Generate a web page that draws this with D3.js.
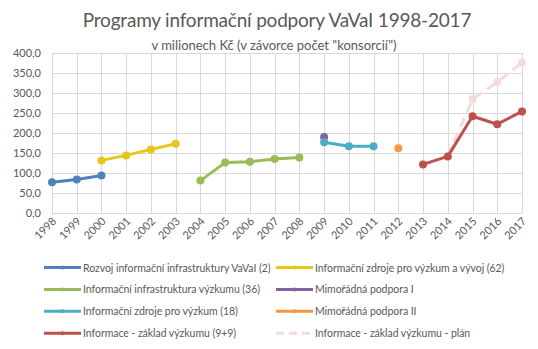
<!DOCTYPE html>
<html>
<head>
<meta charset="utf-8">
<script src="https://cdn.jsdelivr.net/npm/d3@7"></script>
<style>
  body { margin: 0; background: #fff; }
  svg text { font-family: Lato, "Open Sans", sans-serif; fill: #595959; }
</style>
</head>
<body>
<div id="chart"></div>
<script>
// -----------------------------
// Data
// -----------------------------
const years = d3.range(1998, 2018);
const yTicks = [0, 50, 100, 150, 200, 250, 300, 350, 400];

const rozvoj = [[1998, 77], [1999, 84], [2000, 94]];
const zdrojeVyvoj = [[2000, 131.5], [2001, 144], [2002, 159], [2003, 173]];
const infraVyzkumu = [[2004, 81], [2005, 126], [2006, 128], [2007, 135], [2008, 139]];
const mimoradnaI = [[2009, 190]];
const zdrojeVyzkum = [[2009, 177], [2010, 167], [2011, 167]];
const mimoradnaII = [[2012, 162]];
const zakladVyzkumu = [[2013, 121.5], [2014, 141.5], [2015, 242], [2016, 222], [2017, 254]];
const zakladPlan = [[2014, 141.5], [2015, 285], [2016, 327], [2017, 376]];

const series = [
  { name: "Rozvoj informační infrastruktury VaVaI (2)", color: "#4F81BD", values: rozvoj },
  { name: "Informační zdroje pro výzkum a vývoj (62)", color: "#E6C619", values: zdrojeVyvoj },
  { name: "Informační infrastruktura výzkumu (36)", color: "#9BBB59", values: infraVyzkumu },
  { name: "Mimořádná podpora I", color: "#8064A2", values: mimoradnaI },
  { name: "Informační zdroje pro výzkum (18)", color: "#4BACC6", values: zdrojeVyzkum },
  { name: "Mimořádná podpora II", color: "#F79646", values: mimoradnaII },
  { name: "Informace - základ výzkumu (9+9)", color: "#C0504D", values: zakladVyzkumu },
  { name: "Informace - základ výzkumu - plán", color: "#F2DCDB", values: zakladPlan, dashed: true }
];

// -----------------------------
// Layout
// -----------------------------
const width = 538, height = 349;
const margin = { left: 52, right: 16, top: 53, bottom: 136 };

const svg = d3.select("#chart").append("svg")
  .attr("width", width)
  .attr("height", height);

const x = d3.scalePoint()
  .domain(years)
  .range([margin.left, width - margin.right]);

const y = d3.scaleLinear()
  .domain([0, 400])
  .range([height - margin.bottom, margin.top]);

// Title
svg.append("text")
  .attr("x", 277)
  .attr("y", 27)
  .attr("text-anchor", "middle")
  .style("font-size", "19px")
  .style("letter-spacing", "-0.2px")
  .text("Programy informační podpory VaVaI 1998-2017");

svg.append("text")
  .attr("x", 274)
  .attr("y", 50)
  .attr("text-anchor", "middle")
  .style("font-size", "13px")
  .text("v milionech Kč (v závorce počet \"konsorcií\")");

// Grid
svg.append("g")
  .selectAll("line")
  .data(yTicks)
  .join("line")
  .attr("x1", x(1998))
  .attr("x2", x(2017))
  .attr("y1", d => y(d) + 0.5)
  .attr("y2", d => y(d) + 0.5)
  .attr("stroke", "#d9d9d9");

svg.append("g")
  .selectAll("line")
  .data(years)
  .join("line")
  .attr("x1", d => Math.round(x(d)) + 0.5)
  .attr("x2", d => Math.round(x(d)) + 0.5)
  .attr("y1", y(400))
  .attr("y2", y(0))
  .attr("stroke", "#d9d9d9");

// Y labels
svg.append("g")
  .selectAll("text")
  .data(yTicks)
  .join("text")
  .attr("x", 41)
  .attr("y", d => y(d) + 4)
  .attr("text-anchor", "end")
  .style("font-size", "11px")
  .text(d => d3.format(".1f")(d).replace(".", ","));

// X labels
svg.append("g")
  .selectAll("text")
  .data(years)
  .join("text")
  .attr("transform", d => `translate(${x(d) + 5},${y(0) + 9}) rotate(-45)`)
  .attr("text-anchor", "end")
  .style("font-size", "11px")
  .text(d => d);

// Lines
const line = d3.line()
  .x(d => x(d[0]))
  .y(d => y(d[1]));

const drawOrder = [7, 0, 1, 2, 3, 4, 5, 6];
const plot = svg.append("g");
drawOrder.forEach(i => {
  const s = series[i];
  const g = plot.append("g");
  g.append("path")
    .datum(s.values)
    .attr("fill", "none")
    .attr("stroke", s.color)
    .attr("stroke-width", 3)
    .attr("stroke-linejoin", "round")
    .attr("stroke-dasharray", s.dashed ? "10,6" : null)
    .attr("d", line);
  g.selectAll("circle")
    .data(s.values)
    .join("circle")
    .attr("cx", d => x(d[0]))
    .attr("cy", d => y(d[1]))
    .attr("r", 4)
    .attr("fill", s.color);
});

// -----------------------------
// Legend
// -----------------------------
const legend = svg.append("g");
series.forEach((s, i) => {
  const col = i % 2, row = Math.floor(i / 2);
  const lx = col === 0 ? 44 : 276;
  const ly = 267.5 + row * 21.9;
  const g = legend.append("g").attr("transform", `translate(${lx},${ly})`);
  g.append("line")
    .attr("x1", 0).attr("x2", 37)
    .attr("y1", 0).attr("y2", 0)
    .attr("stroke", s.color)
    .attr("stroke-width", 3)
    .attr("stroke-dasharray", s.dashed ? "8,5" : null);
  g.append("circle")
    .attr("cx", 18.5).attr("cy", 0).attr("r", 2)
    .attr("fill", s.color);
  g.append("text")
    .attr("x", 39)
    .attr("y", 4)
    .style("font-size", "10.5px")
    .style("letter-spacing", "-0.05px")
    .text(s.name);
});
</script>
</body>
</html>
